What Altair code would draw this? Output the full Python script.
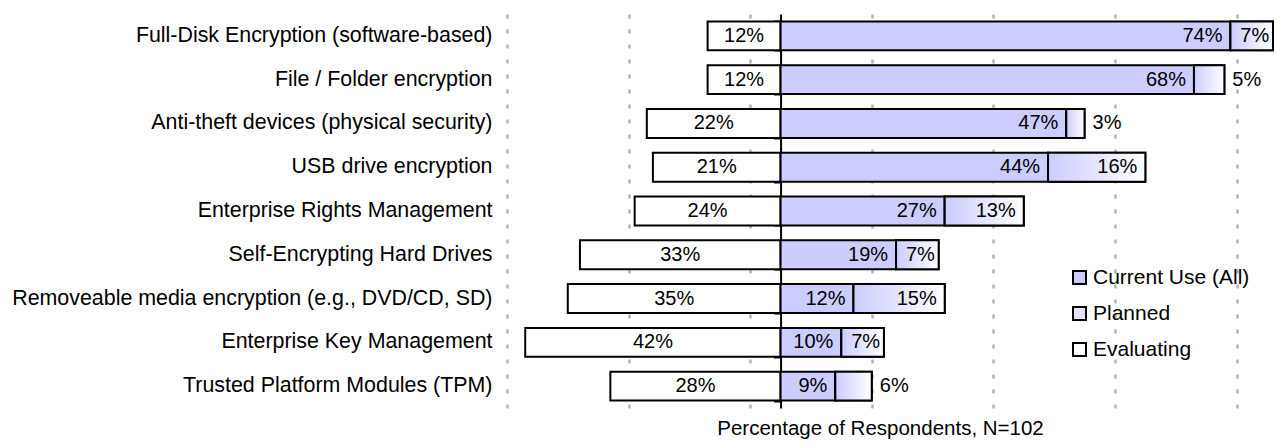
import altair as alt
import pandas as pd

categories = [
    "Full-Disk Encryption (software-based)",
    "File / Folder encryption",
    "Anti-theft devices (physical security)",
    "USB drive encryption",
    "Enterprise Rights Management",
    "Self-Encrypting Hard Drives",
    "Removeable media encryption (e.g., DVD/CD, SD)",
    "Enterprise Key Management",
    "Trusted Platform Modules (TPM)",
]
evaluating = [12, 12, 22, 21, 24, 33, 35, 42, 28]
current = [74, 68, 47, 44, 27, 19, 12, 10, 9]
planned = [7, 5, 3, 16, 13, 7, 15, 7, 6]
series_names = ["Current Use (All)", "Planned", "Evaluating"]
series_colors = ["#ccccff", "#e2e2ff", "#ffffff"]
grid_values = [-45, -25, -5, 15, 35, 55, 75]
x_domain = [-45, 81]
axis_title = "Percentage of Respondents, N=102"

FONT = "Liberation Sans"
W, H = 766, 394
PAD_L, PAD_T, PAD_R, PAD_B = 499, 6, 1, 32
zero_px = (0 - x_domain[0]) / (x_domain[1] - x_domain[0]) * W

rows = []
for c, e, cu, p in zip(categories, evaluating, current, planned):
    rows.append(dict(cat=c, series="Evaluating", start=-e, end=0, value=e))
    rows.append(dict(cat=c, series="Current Use (All)", start=0, end=cu, value=cu))
    rows.append(dict(cat=c, series="Planned", start=cu, end=cu + p, value=p))
df = pd.DataFrame(rows)
df["label"] = df["value"].astype(str) + "%"
df["mid"] = (df["start"] + df["end"]) / 2

gradient = alt.LinearGradient(
    gradient="linear",
    x1=0, y1=0, x2=1, y2=0,
    stops=[alt.GradientStop(color="#ccccff", offset=0),
           alt.GradientStop(color="#ffffff", offset=1)],
)

yscale = alt.Scale(paddingInner=0.34, paddingOuter=0.17)

x_main = alt.X(
    "start:Q",
    scale=alt.Scale(domain=x_domain, nice=False, zero=False),
    axis=alt.Axis(
        values=grid_values, grid=True, gridDash=[4, 11], gridColor="#b4b4b4",
        gridWidth=2.5, domain=False, ticks=False, labels=False,
        title=axis_title, titleFontSize=20.5, titleFont=FONT,
        titleFontWeight="normal", titleColor="black",
        titleX=880 - 8 - PAD_L, titleY=26, titleAlign="center",
        titleBaseline="alphabetic", titleAnchor="start",
    ),
)

y_labels = alt.Y(
    "cat:N", sort=categories, scale=yscale,
    axis=alt.Axis(title=None, domain=False, ticks=False, labelFontSize=21.4,
                  labelFont=FONT, labelPadding=15, labelColor="black",
                  labelLimit=0, grid=False, orient="left"),
)
y_none = alt.Y("cat:N", sort=categories, scale=yscale, axis=None)
y_zero = alt.Y(
    "cat:N", sort=categories, scale=yscale,
    axis=alt.Axis(title=None, labels=False, domain=True, domainColor="black",
                  domainWidth=2, ticks=True, tickColor="black", tickWidth=2,
                  tickSize=7, tickBand="extent", offset=-zero_px, grid=False,
                  orient="left"),
)

base = alt.Chart(df)

bars = base.mark_bar(stroke="black", strokeWidth=2).encode(
    x=x_main,
    x2="end:Q",
    y=y_labels,
    color=alt.Color(
        "series:N",
        scale=alt.Scale(domain=series_names, range=series_colors),
        legend=alt.Legend(
            title=None, orient="none", legendX=1069 - 8 - PAD_L, legendY=253,
            symbolType="square", symbolSize=169, symbolStrokeColor="black",
            symbolStrokeWidth=2, labelFontSize=21, labelFont=FONT,
            labelColor="black", rowPadding=14, labelOffset=3, padding=0,
            labelLimit=0,
        ),
    ),
)

planned_overlay = base.transform_filter("datum.series === 'Planned'").mark_bar(
    fill=gradient, stroke="black", strokeWidth=2
).encode(x="start:Q", x2="end:Q", y=y_none)

txt = dict(fontSize=20, font=FONT, color="black", baseline="middle")

eval_text = base.transform_filter("datum.series === 'Evaluating'").mark_text(
    align="center", **txt
).encode(x="mid:Q", y=y_zero, text="label:N")

cur_text = base.transform_filter("datum.series === 'Current Use (All)'").mark_text(
    align="right", dx=-8, **txt
).encode(x="end:Q", y=y_none, text="label:N")

plan_end_text = base.transform_filter(
    "datum.series === 'Planned' && datum.value >= 10"
).mark_text(align="right", dx=-8, **txt).encode(x="end:Q", y=y_none, text="label:N")

plan_mid_text = base.transform_filter(
    "datum.series === 'Planned' && datum.value > 6 && datum.value < 10"
).mark_text(align="center", dx=3, **txt).encode(x="mid:Q", y=y_none, text="label:N")

plan_out_text = base.transform_filter(
    "datum.series === 'Planned' && datum.value <= 6"
).mark_text(align="left", dx=8, **txt).encode(x="end:Q", y=y_none, text="label:N")

chart = (
    alt.layer(bars, planned_overlay, eval_text, cur_text, plan_end_text,
              plan_mid_text, plan_out_text)
    .resolve_axis(y="independent")
    .properties(
        width=W, height=H,
        padding={"left": PAD_L, "top": PAD_T, "right": PAD_R, "bottom": PAD_B},
        autosize=alt.AutoSizeParams(type="none"),
    )
    .configure(font=FONT)
    .configure_view(stroke=None)
)

chart.save("out.html", embed_options={"renderer": "svg", "actions": False})
